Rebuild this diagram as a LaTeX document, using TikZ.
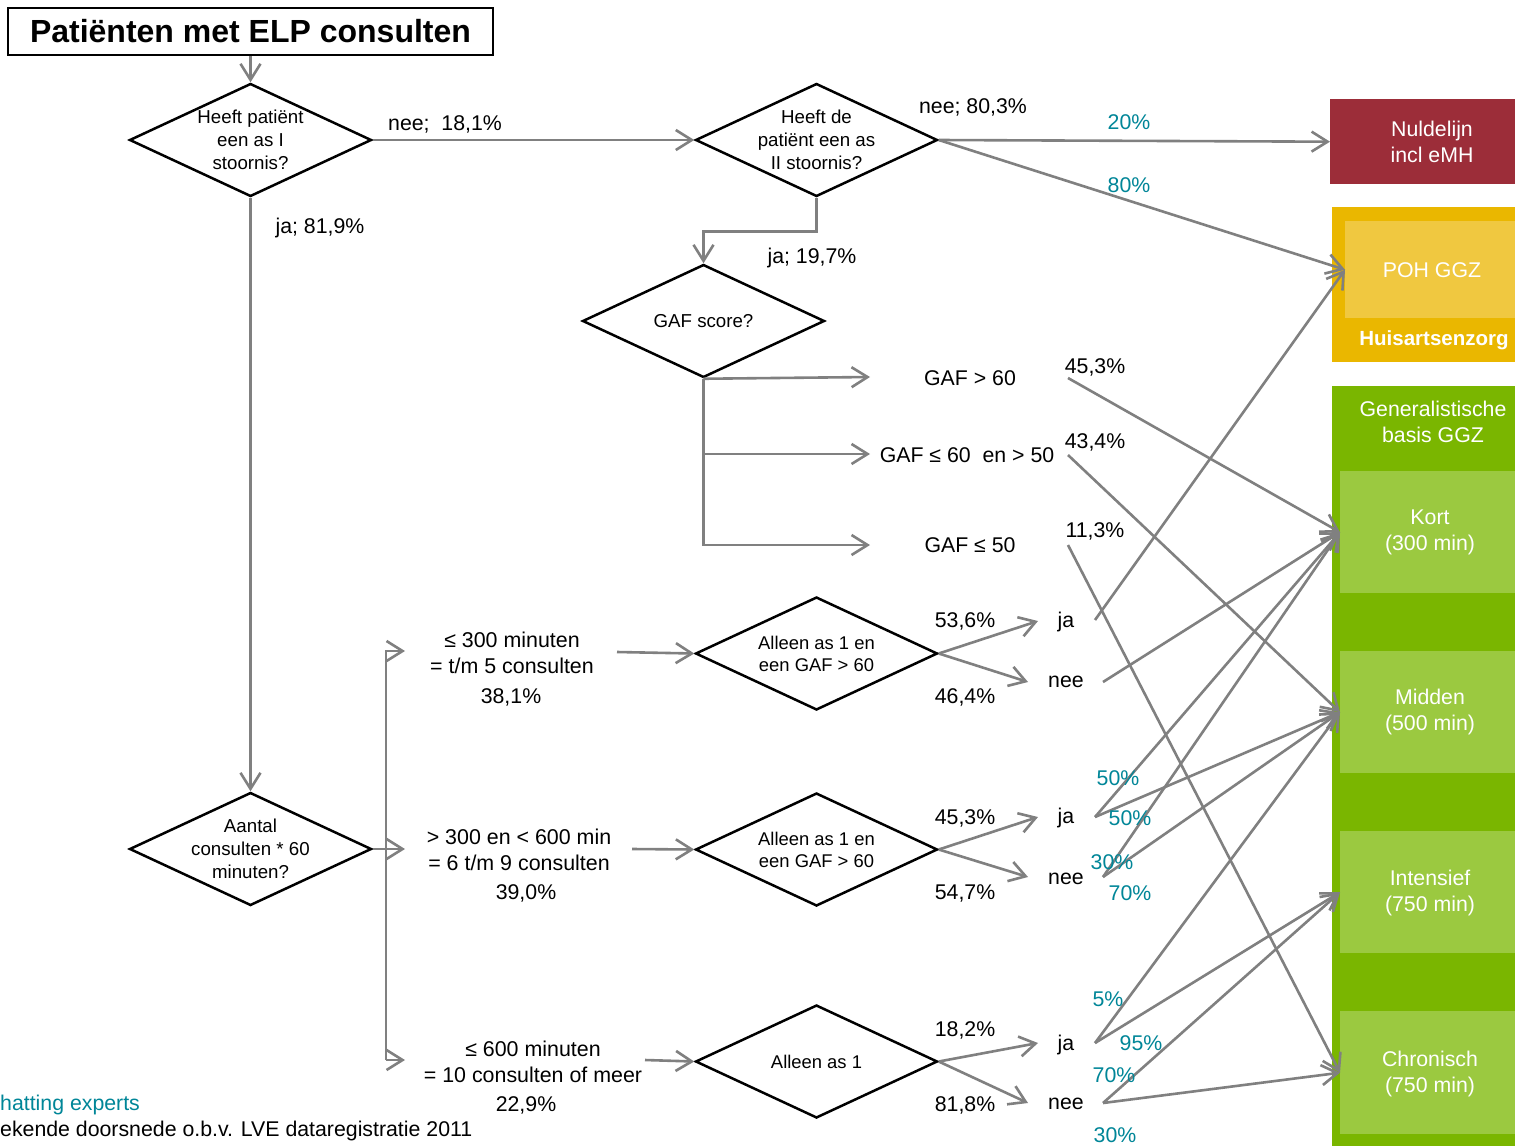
\documentclass[tikz,border=0pt]{standalone}
\usepackage{fontspec}
\setmainfont{Liberation Sans}
\usetikzlibrary{arrows.meta,shapes.geometric}
\definecolor{lgray}{RGB}{128,128,128}
\definecolor{teal2}{RGB}{0,134,152}
\definecolor{nulred}{RGB}{156,45,57}
\definecolor{goldout}{RGB}{234,183,0}
\definecolor{goldin}{RGB}{240,200,64}
\definecolor{greenout}{RGB}{122,182,0}
\definecolor{greenin}{RGB}{155,201,64}
\begin{document}
\begin{tikzpicture}[x=1pt,y=-1pt,
  conn/.style={draw=lgray, line width=2.6pt, -{Straight Barb[length=16pt,width=20pt]}},
  gline/.style={draw=lgray, line width=2.6pt},
  dia/.style={shape=diamond, draw=black, line width=2.5pt, minimum width=242pt, minimum height=113pt, inner sep=0pt},
  dtext/.style={align=center, font=\fontsize{18.7}{23}\selectfont, inner sep=0pt},
  dtexts/.style={align=center, font=\fontsize{18.4}{22}\selectfont, inner sep=0pt},
  txt/.style={align=center, font=\fontsize{21.4}{26}\selectfont, inner sep=0pt},
  pct/.style={font=\fontsize{21.3}{24}\selectfont, inner sep=0pt},
  tpct/.style={font=\fontsize{21.3}{24}\selectfont, inner sep=0pt, text=teal2},
  box/.style={anchor=north west, inner sep=0pt, draw=none},
  wtxt/.style={align=center, text=white, font=\fontsize{21.3}{26}\selectfont, inner sep=0pt},
]
\path[fill=white, use as bounding box] (0,0) rectangle (1515,1146);

% ---------- right hand boxes ----------
\node[box, fill=nulred, minimum width=185pt, minimum height=85pt] (nulbox) at (1330,99) {};
\node[wtxt] (nultxt) at (1432,142) {Nuldelijn\\incl eMH};
\node[box, fill=goldout, minimum width=183pt, minimum height=155pt] (huisbox) at (1332,207) {};
\node[box, fill=goldin, minimum width=170pt, minimum height=97pt] (poh) at (1345,221) {};
\node[wtxt] (pohtxt) at (1432,270) {POH GGZ};
\node[wtxt, font=\bfseries\fontsize{20.5}{26}\selectfont] (huistxt) at (1434,340) {Huisartsenzorg};
\node[box, fill=greenout, minimum width=183pt, minimum height=760pt] (genbox) at (1332,386) {};
\node[wtxt] (gentxt) at (1433,422) {Generalistische\\basis GGZ};
\node[box, fill=greenin, minimum width=175pt, minimum height=122pt] (kort) at (1340,471) {};
\node[box, fill=greenin, minimum width=175pt, minimum height=122pt] (midden) at (1340,651) {};
\node[box, fill=greenin, minimum width=175pt, minimum height=122pt] (intens) at (1340,831) {};
\node[box, fill=greenin, minimum width=175pt, minimum height=123pt] (chron) at (1340,1011) {};
\node[wtxt] (korttxt) at (1430,532) {Kort\\(300 min)};
\node[wtxt] (middentxt) at (1430,712) {Midden\\(500 min)};
\node[wtxt] (intenstxt) at (1430,893) {Intensief\\(750 min)};
\node[wtxt] (chrontxt) at (1430,1074) {Chronisch\\(750 min)};

% ---------- title and diamonds ----------
\node[draw=black, line width=2.5pt, minimum width=485pt, minimum height=47pt, inner sep=0pt,
      font=\bfseries\fontsize{32}{36}\selectfont] (title) at (250.5,31.5) {Patiënten met ELP consulten};
\node[dia, label={[dtext]center:{Heeft patiënt\\een as I\\stoornis?}}] (d1) at (250.5,140) {};
\node[dia, label={[dtext]center:{Heeft de\\patiënt een as\\II stoornis?}}] (d2) at (816.5,140) {};
\node[dia, label={[dtext]center:{GAF score?}}] (gaf) at (703.5,321) {};
\node[dia, label={[dtext]center:{Aantal\\consulten * 60\\minuten?}}] (d3) at (250.5,849) {};
\node[dia, label={[dtexts]center:{Alleen as 1 en\\een GAF > 60}}] (d4) at (816.5,653.5) {};
\node[dia, label={[dtexts]center:{Alleen as 1 en\\een GAF > 60}}] (d5) at (816.5,849.5) {};
\node[dia, label={[dtexts]center:{Alleen as 1}}] (d6) at (816.5,1061.5) {};

% ---------- top connectors ----------
\draw[conn] (title.south) -- (d1.north);
\draw[conn] (d1.east) -- (d2.west);
\node[pct] (l1) at (445,124) {nee;\ \ 18,1\%};
\draw[conn] (d1.south) -- (d3.north);
\node[pct] (l2) at (320,228) {ja; 81,9\%};
\node[pct] (l3) at (973,107) {nee; 80,3\%};
\draw[conn] (d2.south) -- ++(0,34) -| (gaf.north);
\node[pct] (l4) at (812,258) {ja; 19,7\%};
\draw[conn] (d2.east) -- (nulbox.west);
\draw[conn] (d2.east) -- (poh.west);
\node[tpct] (p20) at (1129,122) {20\%};
\node[tpct] (p80) at (1129,185) {80\%};

% ---------- GAF branch ----------
\coordinate (ga1) at (870,377);
\coordinate (ga2) at (870,454);
\coordinate (ga3) at (870,545);
\draw[conn] (gaf.south) -- (ga1);
\draw[conn] (gaf.south) |- (ga2);
\draw[conn] (gaf.south) |- (ga3);
\node[pct] (g1) at (970,378) {GAF > 60};
\node[pct] (g2) at (967,455) {GAF ≤ 60\ \ en > 50};
\node[pct] (g3) at (970,545) {GAF ≤ 50};
\node[pct] (g1p) at (1095,367) {45,3\%};
\node[pct] (g2p) at (1095,442) {43,4\%};
\node[pct] (g3p) at (1095,531) {11,3\%};
\coordinate (s1) at (1068,378);
\coordinate (s2) at (1068,455);
\coordinate (s3) at (1068,545);
\draw[conn] (s1) -- (kort.west);
\draw[conn] (s2) -- (midden.west);
\draw[conn] (s3) -- (chron.west);

% ---------- minutes branch ----------
\coordinate (vt) at (386,651);
\coordinate (vb) at (386,1060);
\coordinate (b1) at (405,651);
\coordinate (b2) at (405,849);
\coordinate (b3) at (405,1060);
\draw[conn] (vb) -- (vt) -- (b1);
\draw[conn] (vb) -- (b3);
\draw[conn] (d3.east) -- (b2);
\node[txt] (r1) at (512,653) {≤ 300 minuten\\= t/m 5 consulten};
\node[pct] (r1p) at (511,697) {38,1\%};
\node[txt] (r2) at (519,850) {> 300 en < 600 min\\= 6 t/m 9 consulten};
\node[pct] (r2p) at (526,893) {39,0\%};
\node[txt] (r3) at (533,1062) {≤ 600 minuten\\= 10 consulten of meer};
\node[pct] (r3p) at (526,1105) {22,9\%};
\coordinate (a1) at (617,652);
\coordinate (a2) at (632,849);
\coordinate (a3) at (645,1060);
\draw[conn] (a1) -- (d4.west);
\draw[conn] (a2) -- (d5.west);
\draw[conn] (a3) -- (d6.west);

% ---------- ja / nee splits ----------
\coordinate (j1) at (1038,621);
\coordinate (n1) at (1028,682);
\coordinate (j2) at (1038,817);
\coordinate (n2) at (1028,877);
\coordinate (j3) at (1038,1043);
\coordinate (n3) at (1028,1103);
\draw[conn] (d4.east) -- (j1);
\draw[conn] (d4.east) -- (n1);
\draw[conn] (d5.east) -- (j2);
\draw[conn] (d5.east) -- (n2);
\draw[conn] (d6.east) -- (j3);
\draw[conn] (d6.east) -- (n3);
\node[pct] (q1) at (965,621) {53,6\%};
\node[pct] (q2) at (965,697) {46,4\%};
\node[pct] (q3) at (965,818) {45,3\%};
\node[pct] (q4) at (965,893) {54,7\%};
\node[pct] (q5) at (965,1030) {18,2\%};
\node[pct] (q6) at (965,1105) {81,8\%};
\node[pct] (ja1) at (1066,622) {ja};
\node[pct] (nee1) at (1066,682) {nee};
\node[pct] (ja2) at (1066,818) {ja};
\node[pct] (nee2) at (1066,879) {nee};
\node[pct] (ja3) at (1066,1045) {ja};
\node[pct] (nee3) at (1066,1104) {nee};

% ---------- lines to care levels ----------
\coordinate (sj1) at (1095,620);
\coordinate (sn1) at (1103,682);
\coordinate (sj2) at (1095,817);
\coordinate (sn2) at (1103,877);
\coordinate (sj3) at (1095,1043);
\coordinate (sn3) at (1103,1103);
\draw[conn] (sj1) -- (poh.west);
\draw[conn] (sn1) -- (kort.west);
\draw[conn] (sj2) -- (kort.west);
\draw[conn] (sj2) -- (midden.west);
\draw[conn] (sn2) -- (kort.west);
\draw[conn] (sn2) -- (midden.west);
\draw[conn] (sj3) -- (midden.west);
\draw[conn] (sj3) -- (intens.west);
\draw[conn] (sn3) -- (intens.west);
\draw[conn] (sn3) -- (chron.west);
\node[tpct] (t1) at (1118,778) {50\%};
\node[tpct] (t2) at (1130,818) {50\%};
\node[tpct] (t3) at (1112,862) {30\%};
\node[tpct] (t4) at (1130,893) {70\%};
\node[tpct] (t5) at (1108,999) {5\%};
\node[tpct] (t6) at (1141,1043) {95\%};
\node[tpct] (t7) at (1114,1075) {70\%};
\node[tpct] (t8) at (1115,1135) {30\%};

% ---------- footnotes ----------
\node[pct, anchor=west, text=teal2] (f1) at (0,1105) {hatting experts};
\node[pct, anchor=west] (f2) at (0,1131) {ekende doorsnede o.b.v. LVE dataregistratie 2011};
\end{tikzpicture}
\end{document}
